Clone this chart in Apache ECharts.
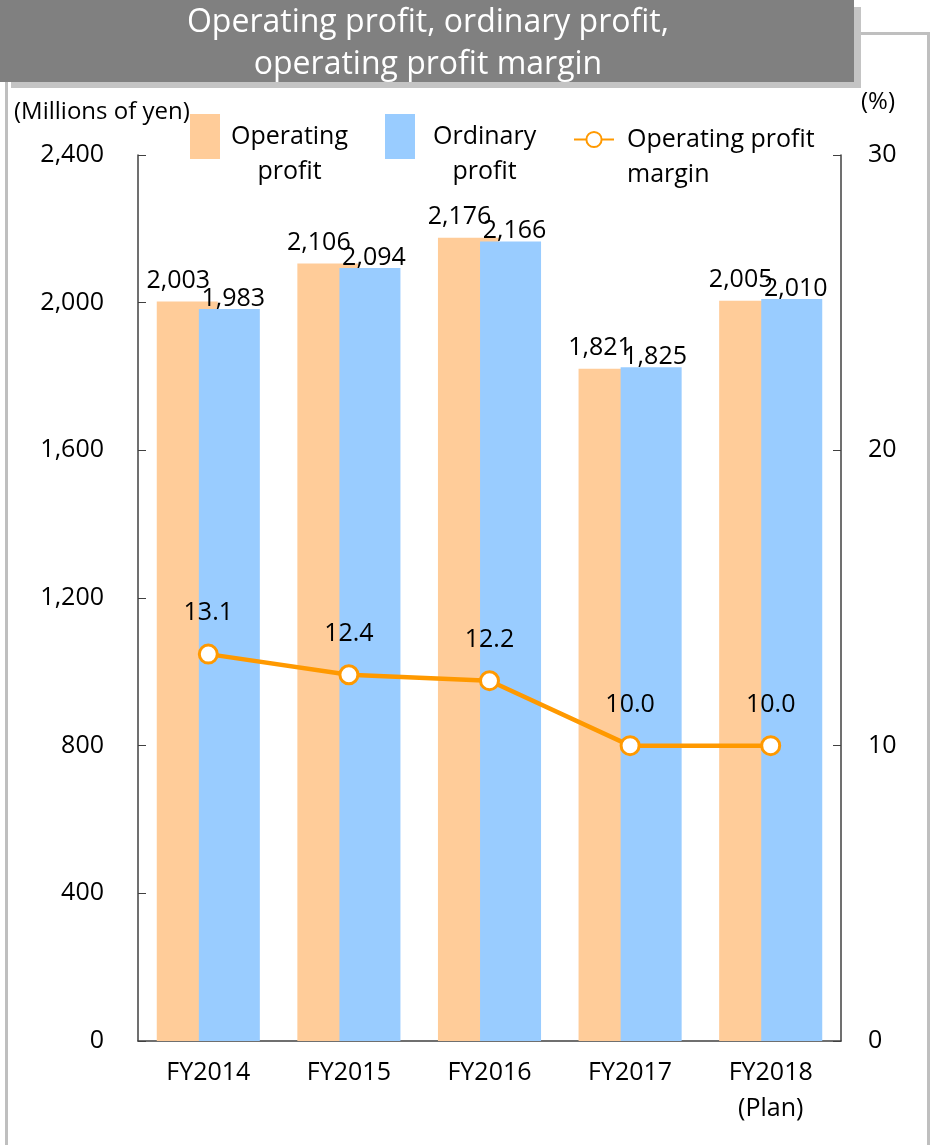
<!DOCTYPE html>
<html>
<head>
<meta charset="utf-8">
<script src="https://cdn.jsdelivr.net/npm/echarts@6/dist/echarts.min.js"></script>
<style>
html,body{margin:0;padding:0;background:#fff;}
#chart{width:933px;height:1145px;}
</style>
</head>
<body>
<div id="chart"></div>
<script>
const categories = ['FY2014', 'FY2015', 'FY2016', 'FY2017', 'FY2018\n(Plan)'];
const operatingProfit = [2003, 2106, 2176, 1821, 2005];
const ordinaryProfit = [1983, 2094, 2166, 1825, 2010];
const operatingMargin = [13.1, 12.4, 12.2, 10.0, 10.0];
const leftTicks = { min: 0, max: 2400, interval: 400 };
const rightTicks = { min: 0, max: 30, interval: 10 };

const FONT = '"Open Sans", "Noto Sans", sans-serif';
const FS = 25;
const chart = echarts.init(document.getElementById('chart'), null, { renderer: 'canvas' });

const fmtNum = v => v.toLocaleString('en-US');

chart.setOption({
  animation: false,
  textStyle: { fontFamily: FONT, color: '#000' },
  title: {
    text: 'Operating profit, ordinary profit,\noperating profit margin',
    left: 428, top: 2, padding: 0, textAlign: 'center',
    textStyle: { color: '#fff', fontSize: 32, fontWeight: 'normal', lineHeight: 42, fontFamily: FONT }
  },
  graphic: [
    { type: 'rect', z: -10, shape: { x: 6.5, y: 33.5, width: 922, height: 1200 }, style: { fill: 'none', stroke: '#bfbfbf', lineWidth: 3 } },
    { type: 'rect', z: -9, shape: { x: 11, y: 7, width: 850, height: 81 }, style: { fill: '#c4c4c4' } },
    { type: 'rect', z: -8, shape: { x: 0, y: 0, width: 854, height: 82 }, style: { fill: '#808080' } },
    { type: 'text', left: 14, top: 100, style: { text: '(Millions of yen)', fontSize: 24, fontFamily: FONT, fill: '#000' } },
    { type: 'text', left: 861, top: 90, style: { text: '(%)', fontSize: 24, fontFamily: FONT, fill: '#000' } }
  ],
  legend: [
    {
      data: ['Operating profit'], left: 190, top: 114, padding: 0,
      itemWidth: 30, itemHeight: 45, icon: 'rect',
      formatter: () => '{c|Operating}\n{c|profit}',
      textStyle: { fontSize: FS, fontFamily: FONT, color: '#000', padding: [35, 0, 0, 6], rich: { c: { align: 'center', fontSize: FS, lineHeight: 35, fontFamily: FONT } } }
    },
    {
      data: ['Ordinary profit'], left: 385, top: 114, padding: 0,
      itemWidth: 30, itemHeight: 45, icon: 'rect',
      formatter: () => '{c|Ordinary}\n{c|profit}',
      textStyle: { fontSize: FS, fontFamily: FONT, color: '#000', padding: [35, 0, 0, 13], rich: { c: { align: 'center', fontSize: FS, lineHeight: 35, fontFamily: FONT } } }
    },
    {
      data: ['Operating profit margin'], left: 573, top: 127, padding: 0,
      itemWidth: 40, itemHeight: 19,
      formatter: () => '{c|Operating profit}\n{c|margin}',
      textStyle: { fontSize: FS, fontFamily: FONT, color: '#000', padding: [35, 0, 0, 8], rich: { c: { align: 'left', fontSize: FS, lineHeight: 35, fontFamily: FONT } } }
    }
  ],
  grid: { left: 138, right: 92, top: 155, bottom: 104, containLabel: false },
  xAxis: {
    type: 'category', data: categories,
    axisLine: { lineStyle: { color: '#404040', width: 1.5 } },
    axisTick: { inside: true, length: 8, lineStyle: { color: '#404040' } },
    axisLabel: { color: '#000', fontSize: FS, margin: 14, lineHeight: 36, fontFamily: FONT }
  },
  yAxis: [
    {
      type: 'value', min: leftTicks.min, max: leftTicks.max, interval: leftTicks.interval,
      axisLine: { show: true, lineStyle: { color: '#404040', width: 1.5 } },
      axisTick: { show: true, inside: true, length: 8, lineStyle: { color: '#404040' } },
      splitLine: { show: false },
      axisLabel: { color: '#000', fontSize: FS, margin: 34, formatter: fmtNum, fontFamily: FONT }
    },
    {
      type: 'value', position: 'right', min: rightTicks.min, max: rightTicks.max, interval: rightTicks.interval,
      axisLine: { show: true, lineStyle: { color: '#404040', width: 1.5 } },
      axisTick: { show: true, inside: true, length: 8, lineStyle: { color: '#404040' } },
      splitLine: { show: false },
      axisLabel: { color: '#000', fontSize: FS, margin: 27, fontFamily: FONT }
    }
  ],
  series: [
    {
      name: 'Operating profit', type: 'bar', data: operatingProfit,
      barWidth: 61, barGap: '-31%',
      itemStyle: { color: '#FFCC99' },
      label: { show: true, position: 'top', distance: 8, offset: [-9, 0], fontSize: FS, color: '#000', fontFamily: FONT, formatter: p => fmtNum(p.value) }
    },
    {
      name: 'Ordinary profit', type: 'bar', data: ordinaryProfit,
      barWidth: 61,
      itemStyle: { color: '#99CCFF' },
      label: { show: true, position: 'top', distance: -2, offset: [4, 0], fontSize: FS, color: '#000', fontFamily: FONT, formatter: p => fmtNum(p.value) }
    },
    {
      name: 'Operating profit margin', type: 'line', yAxisIndex: 1, data: operatingMargin,
      z: 5,
      symbol: 'circle', symbolSize: 18,
      lineStyle: { color: '#FF9900', width: 4.5 },
      itemStyle: { color: '#fff', borderColor: '#FF9900', borderWidth: 3 },
      label: { show: true, position: 'top', distance: 18, fontSize: FS, color: '#000', fontFamily: FONT, formatter: p => p.value.toFixed(1) }
    }
  ]
});
</script>
</body>
</html>
